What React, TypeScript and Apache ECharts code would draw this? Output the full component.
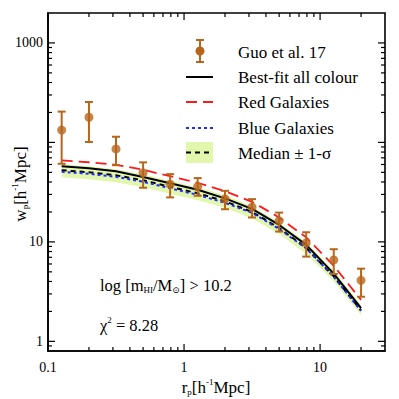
import React, { useEffect, useRef } from "react";
import * as echarts from "echarts";

// ---- data ----
const rp = [0.126, 0.2, 0.316, 0.5, 0.79, 1.26, 2.0, 3.16, 5.0, 7.9, 12.6, 20.0];
const guoWp = [133, 179, 86, 49.5, 38, 36.0, 27.1, 22.4, 16.3, 9.77, 6.59, 4.11];
const guoLow = [61, 101, 59, 35, 28, 29.1, 21.3, 17.6, 12.7, 7.11, 4.76, 2.81];
const guoHigh = [204, 255, 114, 63, 48, 43.8, 32.6, 26.9, 19.7, 12.5, 8.44, 5.38];
const bestFit = [57.6, 55.0, 51.3, 45.0, 38.8, 33.4, 27.4, 21.5, 14.8, 9.33, 4.8, 2.16];
const redGal = [65.9, 63.2, 59.6, 53.1, 45.7, 39.3, 32.3, 25.3, 17.6, 11.1, 5.76, 2.61];
const blueGal = [50.7, 48.4, 45.1, 40.2, 34.6, 29.7, 24.7, 19.6, 13.5, 8.6, 4.45, 2.02];
const median = [52.5, 50.1, 46.7, 41.6, 35.8, 30.8, 25.6, 20.0, 13.8, 8.7, 4.5, 2.05];
const bandLow = [44.6, 42.6, 39.7, 35.4, 30.4, 26.2, 22.0, 17.2, 12.0, 7.57, 4.0, 1.84];
const bandHigh = [60.3, 57.6, 53.7, 47.9, 41.1, 35.4, 29.4, 22.8, 15.7, 9.89, 5.15, 2.32];

const X_MIN = 0.1;
const X_MAX = 30;
const Y_MIN = 0.8;
const Y_MAX = 2000;
const xLabelValues = [0.1, 1, 10];
const yLabelValues = [1, 10, 1000];
const xMajorTicks = [0.1, 1, 10];
const xMinorTicks = [0.2, 0.3, 0.4, 0.5, 0.6, 0.7, 0.8, 0.9, 2, 3, 4, 5, 6, 7, 8, 9, 20];
const yMajorTicks = [1, 10, 100, 1000];
const yMinorTicks = [
  0.9, 2, 3, 4, 5, 6, 7, 8, 9, 20, 30, 40, 50, 60, 70, 80, 90,
  200, 300, 400, 500, 600, 700, 800, 900,
];
const legendLabels = ["Guo et al. 17", "Best-fit all colour", "Red Galaxies", "Blue Galaxies", "Median ± 1-σ"];

const FONT = "'Liberation Serif', 'DejaVu Serif', serif";
const BROWN = "#b8651c";
const RED = "#ff1a1a";
const BLUE = "#1f2bff";
const GREEN = "#e2f6ac";

const isIn = (v: number, arr: number[]) =>
  arr.some((a) => Math.abs(Math.log10(v) - Math.log10(a)) < 1e-6);

const richOf = (size: number) => ({
  a: { fontFamily: FONT, fontSize: size, lineHeight: size + 2, fill: "#000" },
  s: { fontFamily: FONT, fontSize: Math.round(size * 0.53), lineHeight: 8, verticalAlign: "bottom", fill: "#000" },
  u: { fontFamily: FONT, fontSize: Math.round(size * 0.53), lineHeight: 8, verticalAlign: "top", fill: "#000" },
});

export default function App() {
  const ref = useRef<HTMLDivElement>(null);

  useEffect(() => {
    if (!ref.current) return;
    const chart = echarts.init(ref.current, null, { renderer: "svg" });
    const tickStyle = { stroke: "#000", lineWidth: 1.2 };
    const lw = 1.6;

    const option: any = {
      animation: false,
      backgroundColor: "#fff",
      textStyle: { fontFamily: FONT },
      grid: {
        left: 48,
        right: 14,
        top: 13,
        bottom: 48,
        show: true,
        borderColor: "#000",
        borderWidth: lw,
        backgroundColor: "transparent",
      },
      xAxis: {
        type: "log",
        logBase: 10,
        min: X_MIN,
        max: X_MAX,
        axisLine: { lineStyle: { color: "#000", width: lw } },
        axisTick: { show: false },
        splitLine: { show: false },
        axisLabel: {
          margin: 9,
          color: "#000",
          fontFamily: FONT,
          fontSize: 14,
          formatter: (v: number) => (isIn(v, xLabelValues) ? String(+v.toPrecision(3)) : ""),
        },
      },
      yAxis: {
        type: "log",
        logBase: 10,
        min: Y_MIN,
        max: Y_MAX,
        axisLine: { lineStyle: { color: "#000", width: lw } },
        axisTick: { show: false },
        splitLine: { show: false },
        axisLabel: {
          margin: 5,
          color: "#000",
          fontFamily: FONT,
          fontSize: 14,
          formatter: (v: number) => (isIn(v, yLabelValues) ? String(Math.round(v)) : ""),
        },
      },
      series: [
        {
          type: "custom",
          name: "band",
          z: 1,
          silent: true,
          data: rp.map((x, i) => [x, bandLow[i], bandHigh[i]]),
          encode: { x: 0, y: 1 },
          renderItem: (params: any, api: any) => {
            if (params.dataIndex !== 0) return null;
            const up = rp.map((x, i) => api.coord([x, bandHigh[i]]));
            const lo = rp.map((x, i) => api.coord([x, bandLow[i]])).reverse();
            return {
              type: "polygon",
              shape: { points: up.concat(lo) },
              style: { fill: GREEN, stroke: "none" },
            };
          },
        },
        {
          type: "line",
          name: "Median",
          z: 2,
          symbol: "none",
          data: rp.map((x, i) => [x, median[i]]),
          lineStyle: { color: "#000", width: 2, type: [5, 4] },
        },
        {
          type: "line",
          name: "Blue Galaxies",
          z: 2,
          symbol: "none",
          data: rp.map((x, i) => [x, blueGal[i]]),
          lineStyle: { color: BLUE, width: 2, type: [3, 3] },
        },
        {
          type: "line",
          name: "Best-fit all colour",
          z: 3,
          symbol: "none",
          data: rp.map((x, i) => [x, bestFit[i]]),
          lineStyle: { color: "#000", width: 2 },
        },
        {
          type: "line",
          name: "Red Galaxies",
          z: 3,
          symbol: "none",
          data: rp.map((x, i) => [x, redGal[i]]),
          lineStyle: { color: RED, width: 1.8, type: [11, 6] },
        },
        {
          type: "custom",
          name: "errors",
          z: 4,
          silent: true,
          data: rp.map((x, i) => [x, guoWp[i], guoLow[i], guoHigh[i]]),
          encode: { x: 0, y: 1 },
          renderItem: (params: any, api: any) => {
            const x = api.value(0);
            const lo = api.coord([x, api.value(2)]);
            const hi = api.coord([x, api.value(3)]);
            const w = 4;
            const st = { stroke: BROWN, lineWidth: 2 };
            return {
              type: "group",
              children: [
                { type: "line", shape: { x1: lo[0], y1: lo[1], x2: hi[0], y2: hi[1] }, style: st },
                { type: "line", shape: { x1: lo[0] - w, y1: lo[1], x2: lo[0] + w, y2: lo[1] }, style: st },
                { type: "line", shape: { x1: hi[0] - w, y1: hi[1], x2: hi[0] + w, y2: hi[1] }, style: st },
              ],
            };
          },
        },
        {
          type: "scatter",
          name: "Guo et al. 17",
          z: 5,
          symbol: "circle",
          symbolSize: 9,
          itemStyle: { color: BROWN },
          data: rp.map((x, i) => [x, guoWp[i]]),
        },
        {
          type: "custom",
          name: "xticks",
          z: 6,
          silent: true,
          clip: false,
          data: xMajorTicks.map((v) => [v, 2]).concat(xMinorTicks.map((v) => [v, 1])),
          encode: { x: 0, y: 1 },
          renderItem: (params: any, api: any) => {
            const v = api.value(0);
            const len = api.value(1) === 2 ? 7 : 4;
            const b = api.coord([v, Y_MIN]);
            const t = api.coord([v, Y_MAX]);
            return {
              type: "group",
              children: [
                { type: "line", shape: { x1: b[0], y1: b[1], x2: b[0], y2: b[1] - len }, style: tickStyle },
                { type: "line", shape: { x1: t[0], y1: t[1], x2: t[0], y2: t[1] + len }, style: tickStyle },
              ],
            };
          },
        },
        {
          type: "custom",
          name: "yticks",
          z: 6,
          silent: true,
          clip: false,
          data: yMajorTicks.map((v) => [1, v, 2]).concat(yMinorTicks.map((v) => [1, v, 1])),
          encode: { x: 0, y: 1 },
          renderItem: (params: any, api: any) => {
            const v = api.value(1);
            const len = api.value(2) === 2 ? 7 : 4;
            const l = api.coord([X_MIN, v]);
            const r = api.coord([X_MAX, v]);
            return {
              type: "group",
              children: [
                { type: "line", shape: { x1: l[0], y1: l[1], x2: l[0] + len, y2: l[1] }, style: tickStyle },
                { type: "line", shape: { x1: r[0], y1: r[1], x2: r[0] - len, y2: r[1] }, style: tickStyle },
              ],
            };
          },
        },
      ],
      graphic: [
        {
          type: "text",
          x: 216,
          y: 387,
          z: 10,
          style: {
            text: "{a|r}{s|p}{a|[h}{u|-1}{a|Mpc]}",
            align: "center",
            verticalAlign: "middle",
            rich: richOf(17),
          },
        },
        {
          type: "text",
          x: 20,
          y: 184,
          rotation: Math.PI / 2,
          z: 10,
          style: {
            text: "{a|w}{s|p}{a|[h}{u|-1}{a|Mpc]}",
            align: "center",
            verticalAlign: "middle",
            rich: richOf(17),
          },
        },
        {
          type: "text",
          x: 100,
          y: 285,
          z: 10,
          style: {
            text: "{a|log [m}{s|HI}{a|/M}{s|⊙}{a|] > 10.2}",
            verticalAlign: "middle",
            rich: richOf(16.5),
          },
        },
        {
          type: "text",
          x: 100,
          y: 325,
          z: 10,
          style: {
            text: "{a|χ}{u|2}{a| = 8.28}",
            verticalAlign: "middle",
            rich: richOf(16.5),
          },
        },
        {
          type: "group",
          z: 10,
          children: [
            { type: "line", shape: { x1: 200, y1: 40, x2: 200, y2: 62 }, style: { stroke: BROWN, lineWidth: 2 } },
            { type: "line", shape: { x1: 196, y1: 40, x2: 204, y2: 40 }, style: { stroke: BROWN, lineWidth: 2 } },
            { type: "line", shape: { x1: 196, y1: 62, x2: 204, y2: 62 }, style: { stroke: BROWN, lineWidth: 2 } },
            { type: "circle", shape: { cx: 200, cy: 51, r: 4.5 }, style: { fill: BROWN } },
            { type: "line", shape: { x1: 186, y1: 77, x2: 213, y2: 77 }, style: { stroke: "#000", lineWidth: 2 } },
            { type: "line", shape: { x1: 186, y1: 102, x2: 213, y2: 102 }, style: { stroke: RED, lineWidth: 1.8, lineDash: [11, 6] } },
            { type: "line", shape: { x1: 186, y1: 128, x2: 213, y2: 128 }, style: { stroke: BLUE, lineWidth: 2, lineDash: [3, 3] } },
            { type: "rect", shape: { x: 186, y: 142, width: 27, height: 21 }, style: { fill: GREEN } },
            { type: "line", shape: { x1: 186, y1: 152.5, x2: 213, y2: 152.5 }, style: { stroke: "#000", lineWidth: 2, lineDash: [5, 4] } },
            ...legendLabels.map((t, i) => ({
              type: "text",
              x: 238,
              y: [52, 77, 102, 128, 153][i],
              style: {
                text: "{a|" + t + "}",
                verticalAlign: "middle",
                rich: richOf(17),
              },
            })),
          ],
        },
      ],
    };
    chart.setOption(option);
    return () => chart.dispose();
  }, []);

  return (
    <div
      ref={ref}
      style={{ position: "fixed", left: 0, top: 0, width: 399, height: 399, background: "#fff" }}
    />
  );
}
